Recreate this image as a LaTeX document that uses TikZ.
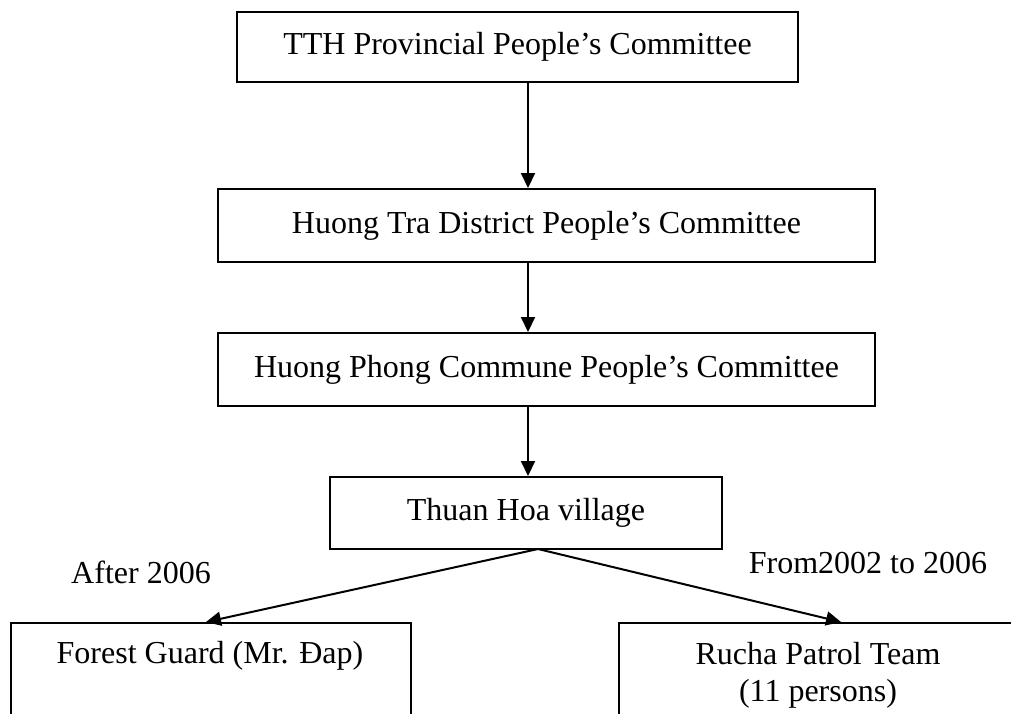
\documentclass[tikz,border=0pt]{standalone}
\usepackage{fontspec}
\setmainfont{Liberation Serif}
\usetikzlibrary{arrows.meta}

\begin{document}
\begin{tikzpicture}[x=0.5pt, y=-0.5pt, line width=1pt,
        every node/.style={font=\fontsize{16}{18.5}\selectfont},
        orgbox/.style={draw, inner sep=0pt},
        link/.style={-{Triangle[length=7.5pt, width=7pt]}}]
    \useasboundingbox (0,0) rectangle (1011,713);
    \clip (0,0) rectangle (1011,713);
    % the chain of committees
    \node[orgbox, minimum width=280.5pt, minimum height=35pt] (tth) at (517.5,47) {TTH Provincial People's Committee};
    \node[orgbox, minimum width=328.5pt, minimum height=36.5pt] (tra) at (546.5,225.5) {Huong Tra District People's Committee};
    \node[orgbox, minimum width=328.5pt, minimum height=36.5pt] (phong) at (546.5,369.5) {Huong Phong Commune People's Committee};
    \node[orgbox, minimum width=196pt, minimum height=36pt] (village) at (526,513) {Thuan Hoa village};
    \coordinate (spine) at (528,0);
    \foreach \from/\to in {tth/tra, tra/phong, phong/village}
        \draw[link] (spine |- \from.south) -- (spine |- \to.north);
    % the two patrol groups
    \node[orgbox, minimum width=200pt, minimum height=75pt, anchor=north west] (guard) at (10,622) {};
    \node[orgbox, minimum width=200pt, minimum height=75pt, anchor=north west] (rucha) at (618,622) {};
    \node (guardtxt) at (210,656) {Forest Guard (Mr. Đap)};
    \node[align=center] (ruchatxt) at (818,675) {Rucha Patrol Team\\(11 persons)};
    \coordinate (fork) at (538,549);
    \draw[link] (fork) -- ([xshift=-2.5pt]guard.north);
    \draw[link] (fork) -- ([xshift=11pt]rucha.north);
    \node (after) at (141,572) {After 2006};
    \node (from) at (868,563) {From2002 to 2006};
\end{tikzpicture}
\end{document}
